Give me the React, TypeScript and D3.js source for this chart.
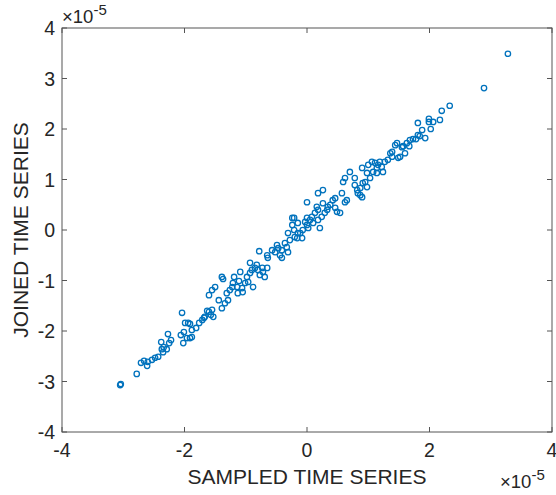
import React from "react";
import * as d3 from "d3";

// values in units of 1e-5
const sampled: number[] = [
  -3.05, -3.04, -2.78, -2.71, -2.66, -2.61, -2.6, -2.53, -2.48, -2.43, -2.37, -2.34, -2.35, -2.29, -2.25, -2.27, -2.22, -2.38,
  -2.04, -1.99, -1.94, -1.91, -2.01, -2.06, -2.02, -1.96, -1.91, -1.88, -1.88, -1.81, -1.76, -1.71, -1.68, -1.63, -1.6, -1.57, -1.53, -1.55, -1.67,
  -1.6, -1.55, -1.5, -1.44, -1.39, -1.37, -1.39, -1.34, -1.31, -1.29, -1.26, -1.22, -1.21, -1.19, -1.14, -1.13, -1.11, -1.09, -1.06, -1.05, -1.01,
  -0.98, -0.96, -0.93, -0.93, -0.9, -0.88, -0.85, -0.82, -0.8, -0.77, -0.73, -0.69, -0.72, -0.65,
  -0.78, -0.65, -0.64, -0.57, -0.52, -0.49, -0.47, -0.44, -0.41, -0.41, -0.36, -0.33, -0.31, -0.31, -0.28, -0.24, -0.24, -0.21, -0.21, -0.2,
  -0.16, -0.15, -0.15, -0.11, -0.08, -0.07, -0.03, 0.0, 0.0, 0.02, 0.05, 0.08, 0.1, 0.13, 0.16, 0.18, 0.18, 0.21, 0.24, 0.26, 0.29, 0.33,
  0.34, 0.38, 0.46, 0.49, 0.54, 0.0, 0.18, 0.26,
  0.42, 0.46, 0.57, 0.62, 0.65, 0.59, 0.62, 0.7, 0.78, 0.78, 0.82, 0.83, 0.87, 0.9, 0.87, 0.9, 0.91, 0.95, 0.98, 0.98, 1.0, 1.03, 1.06,
  1.08, 1.11, 1.14, 1.14, 1.16, 1.19, 1.22, 1.24, 1.27, 1.32, 1.36, 1.39, 1.39, 1.44, 1.47, 1.49, 1.52, 1.6,
  3.28, 2.89, 2.33, 2.2, 2.17, 1.99, 2.06, 1.99, 1.81, 1.88, 2.02, 1.81, 1.84, 1.93, 1.73, 1.78, 1.68, 1.63, 1.57, 1.67, 1.55,
];

const joined: number[] = [
  -3.07, -3.05, -2.85, -2.63, -2.59, -2.69, -2.61, -2.57, -2.53, -2.51, -2.36, -2.32, -2.42, -2.36, -2.24, -2.06, -2.18, -2.22,
  -1.64, -1.84, -1.84, -1.86, -2.02, -2.08, -2.24, -2.14, -2.14, -2.12, -1.98, -1.94, -1.84, -1.78, -1.74, -1.6, -1.62, -1.68, -1.72, -1.58, -1.72,
  -1.29, -1.19, -1.13, -1.39, -1.55, -0.97, -0.93, -1.45, -1.25, -1.39, -1.19, -1.13, -1.05, -0.93, -1.13, -1.25, -1.01, -0.83, -1.15, -1.23, -1.05,
  -0.93, -1.03, -0.85, -0.65, -0.79, -1.13, -0.75, -0.69, -0.79, -0.89, -0.75, -0.93, -0.83, -0.75,
  -0.42, -0.5, -0.55, -0.4, -0.44, -0.3, -0.36, -0.5, -0.55, -0.4, -0.26, -0.34, -0.44, -0.06, -0.2, 0.1, 0.24, 0.24, 0.0, -0.14,
  -0.16, 0.14, -0.06, -0.06, -0.16, 0.0, 0.16, 0.1, 0.24, 0.04, 0.2, 0.26, 0.14, 0.34, 0.46, 0.4, 0.2, 0.04, 0.26, 0.53, 0.34, 0.4,
  0.46, 0.5, 0.44, 0.36, 0.34, 0.55, 0.73, 0.79,
  0.59, 0.63, 0.73, 0.55, 0.59, 0.95, 1.03, 1.15, 1.03, 0.89, 0.79, 0.73, 0.69, 0.65, 0.83, 1.23, 0.93, 0.95, 0.85, 1.13, 1.29, 1.03, 1.35,
  1.15, 1.33, 1.23, 1.13, 1.29, 1.35, 1.25, 1.15, 1.35, 1.39, 1.52, 1.45, 1.55, 1.68, 1.72, 1.43, 1.45, 1.52,
  3.49, 2.81, 2.46, 2.36, 2.18, 2.2, 2.14, 2.14, 2.12, 1.98, 2.0, 1.88, 1.86, 1.82, 1.8, 1.8, 1.78, 1.72, 1.66, 1.66, 1.64,
];

const xTicks: number[] = [-4, -2, 0, 2, 4];
const yTicks: number[] = [-4, -3, -2, -1, 0, 1, 2, 3, 4];
const xLabel = "SAMPLED TIME SERIES";
const yLabel = "JOINED TIME SERIES";

const W = 556;
const H = 495;
const M = { left: 62, right: 4, top: 28, bottom: 63 };
const FONT = "'Liberation Sans', Arial, Helvetica, sans-serif";
const TXT = "#262626";
const AX = "#555555";
const BLUE = "#0072BD";

export default function App() {
  const x = d3.scaleLinear().domain([-4, 4]).range([M.left, W - M.right]);
  const y = d3.scaleLinear().domain([-4, 4]).range([H - M.bottom, M.top]);
  const x0 = x(-4), x1 = x(4), y0 = y(-4), y1 = y(4);
  const tl = 5;
  const pts = d3.zip(sampled, joined);

  return (
    <svg
      width={W}
      height={H}
      style={{ position: "absolute", left: 0, top: 0, background: "#fff" }}
      fontFamily={FONT}
    >
      <rect x={0} y={0} width={W} height={H} fill="#fff" />
      <g>
        {pts.map((d, i) => (
          <circle key={i} cx={x(d[0])} cy={y(d[1])} r={2.7} fill="none" stroke={BLUE} strokeWidth={1.3} />
        ))}
      </g>
      {/* box */}
      <rect x={x0} y={y1} width={x1 - x0} height={y0 - y1} fill="none" stroke={AX} strokeWidth={1} />
      {/* ticks */}
      {xTicks.map((t) => (
        <g key={"xt" + t}>
          <line x1={x(t)} x2={x(t)} y1={y0} y2={y0 - tl} stroke={AX} />
          <line x1={x(t)} x2={x(t)} y1={y1} y2={y1 + tl} stroke={AX} />
          <text x={x(t)} y={y0 + 25} textAnchor="middle" fontSize={19.5} fill={TXT}>
            {t}
          </text>
        </g>
      ))}
      {yTicks.map((t) => (
        <g key={"yt" + t}>
          <line x1={x0} x2={x0 + tl} y1={y(t)} y2={y(t)} stroke={AX} />
          <line x1={x1} x2={x1 - tl} y1={y(t)} y2={y(t)} stroke={AX} />
          <text x={x0 - 7} y={y(t)} dy="0.36em" textAnchor="end" fontSize={19.5} fill={TXT}>
            {t}
          </text>
        </g>
      ))}
      {/* exponents */}
      <text x={x0} y={23} fontSize={18.5} fill={TXT}>
        ×10
        <tspan fontSize={15} dy={-8.5}>-5</tspan>
      </text>
      <text x={500} y={488} fontSize={18.5} fill={TXT}>
        ×10
        <tspan fontSize={15} dy={-8.5}>-5</tspan>
      </text>
      {/* axis labels */}
      <text x={(x0 + x1) / 2} y={484} textAnchor="middle" fontSize={21} fill={TXT}>
        {xLabel}
      </text>
      <text transform={`translate(28, ${(y0 + y1) / 2}) rotate(-90)`} textAnchor="middle" fontSize={21} fill={TXT}>
        {yLabel}
      </text>
    </svg>
  );
}
